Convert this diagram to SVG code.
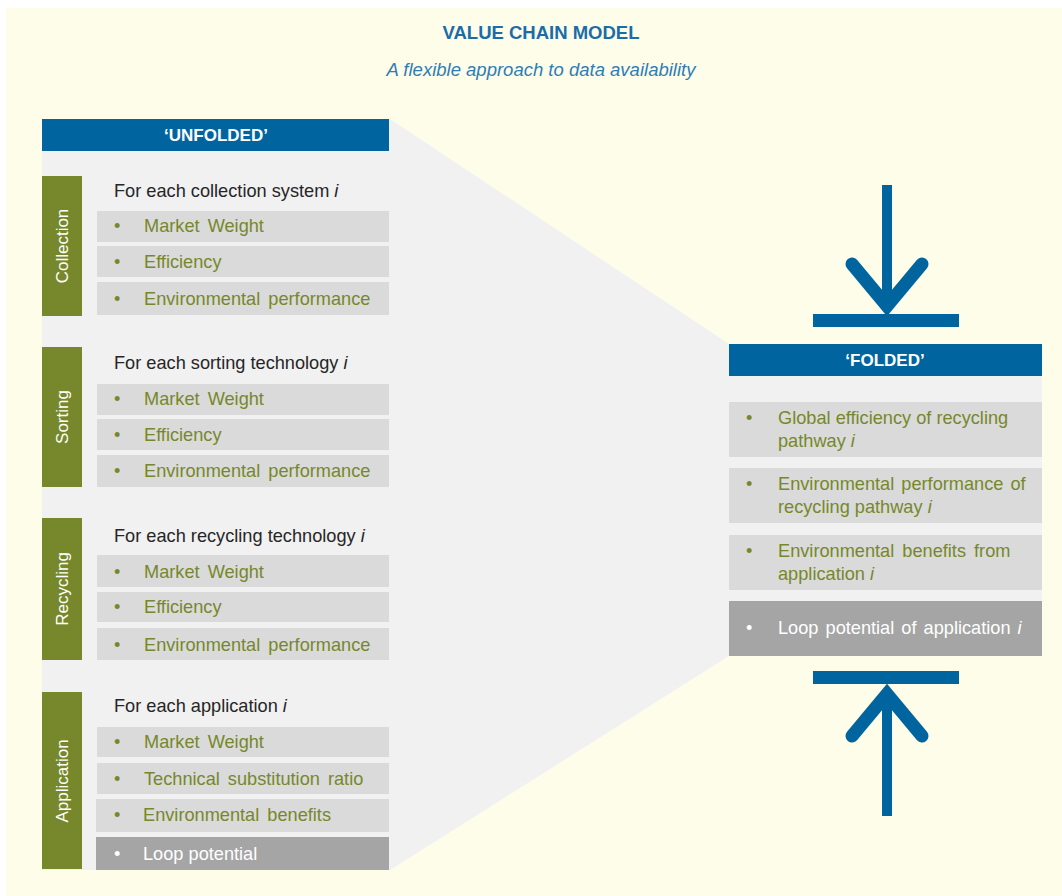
<svg xmlns="http://www.w3.org/2000/svg" width="1062" height="896" viewBox="0 0 1062 896">
<defs>
<style>
.bg{fill:#FEFDE9}
.panel{fill:#F1F1F2}
.hdr{fill:#00659F}
.side{fill:#76882B}
.row{fill:#DADADA}
.loop{fill:#A5A5A5}
.blue{fill:#00659F}
.t{font-family:"Liberation Sans",Arial,sans-serif;font-size:18.2px}
.title{font-family:"Liberation Sans",Arial,sans-serif;font-size:18.5px;font-weight:bold;fill:#1B6DA8}
.sub{font-family:"Liberation Sans",Arial,sans-serif;font-size:18.5px;font-style:italic;fill:#2E7DB5}
.ht{font-family:"Liberation Sans",Arial,sans-serif;font-size:17px;font-weight:bold;fill:#FFFFFF}
.st{font-family:"Liberation Sans",Arial,sans-serif;font-size:17px;fill:#FFFFFF}
.sec{fill:#262626}
.g{fill:#76882B}
.w{fill:#FFFFFF}
.arr{stroke:#00659F;fill:none;stroke-width:13;stroke-linecap:round;stroke-linejoin:miter}
.shaft{stroke:#00659F;stroke-width:10;fill:none}
</style>
</defs>
<rect class="bg" x="6" y="8" width="1056" height="888"/>
<text class="title" x="541" y="39" text-anchor="middle">VALUE CHAIN MODEL</text>
<text class="sub" x="541" y="76" text-anchor="middle">A flexible approach to data availability</text>

<g id="connectors">
<polygon class="panel" points="42,119 390,119 729,344 1042,344 1042,656 729,656 390,870 42,870"/>
<g id="arrow-down">
<line class="shaft" x1="887" y1="185" x2="887" y2="310"/>
<polyline class="arr" points="852,264 887,306 922,264"/>
<rect class="blue" x="813" y="314" width="146" height="13"/>
</g>
<g id="arrow-up">
<rect class="blue" x="813" y="671" width="146" height="13"/>
<line class="shaft" x1="887" y1="692" x2="887" y2="816"/>
<polyline class="arr" points="852,736 887,694 922,736"/>
</g>
</g>

<g id="unfolded-header">
<rect class="hdr" x="42" y="119" width="347" height="32"/>
<text class="ht" x="216" y="141" text-anchor="middle">‘UNFOLDED’</text>
</g>

<g id="collection">
<rect class="side" x="42" y="176" width="40" height="140"/>
<text class="st" transform="translate(68,246) rotate(-90)" text-anchor="middle">Collection</text>
<text class="t sec" x="114" y="197">For each collection system <tspan font-style="italic">i</tspan></text>
<rect class="row" x="97" y="211" width="292" height="31"/>
<text class="t g" x="114" y="232">•</text><text class="t g" x="144" y="232" word-spacing="3">Market Weight</text>
<rect class="row" x="97" y="246" width="292" height="31"/>
<text class="t g" x="114" y="268">•</text><text class="t g" x="144" y="268">Efficiency</text>
<rect class="row" x="97" y="282" width="292" height="33"/>
<text class="t g" x="114" y="305">•</text><text class="t g" x="144" y="305" word-spacing="3">Environmental performance</text>
</g>

<g id="sorting">
<rect class="side" x="42" y="347" width="40" height="140"/>
<text class="st" transform="translate(68,417) rotate(-90)" text-anchor="middle">Sorting</text>
<text class="t sec" x="114" y="369">For each sorting technology <tspan font-style="italic">i</tspan></text>
<rect class="row" x="97" y="384" width="292" height="31"/>
<text class="t g" x="114" y="405">•</text><text class="t g" x="144" y="405" word-spacing="3">Market Weight</text>
<rect class="row" x="97" y="419" width="292" height="31"/>
<text class="t g" x="114" y="441">•</text><text class="t g" x="144" y="441">Efficiency</text>
<rect class="row" x="97" y="455" width="292" height="32"/>
<text class="t g" x="114" y="477">•</text><text class="t g" x="144" y="477" word-spacing="3">Environmental performance</text>
</g>

<g id="recycling">
<rect class="side" x="42" y="518" width="40" height="142"/>
<text class="st" transform="translate(68,589) rotate(-90)" text-anchor="middle">Recycling</text>
<text class="t sec" x="114" y="542">For each recycling technology <tspan font-style="italic">i</tspan></text>
<rect class="row" x="97" y="555" width="292" height="32"/>
<text class="t g" x="114" y="578">•</text><text class="t g" x="144" y="578" word-spacing="3">Market Weight</text>
<rect class="row" x="97" y="592" width="292" height="30"/>
<text class="t g" x="114" y="613">•</text><text class="t g" x="144" y="613">Efficiency</text>
<rect class="row" x="97" y="628" width="292" height="32"/>
<text class="t g" x="114" y="651">•</text><text class="t g" x="144" y="651" word-spacing="3">Environmental performance</text>
</g>

<g id="application">
<rect class="side" x="42" y="692" width="40" height="177"/>
<text class="st" transform="translate(68,781) rotate(-90)" text-anchor="middle">Application</text>
<text class="t sec" x="114" y="712">For each application <tspan font-style="italic">i</tspan></text>
<rect class="row" x="97" y="727" width="292" height="30"/>
<text class="t g" x="114" y="748">•</text><text class="t g" x="144" y="748" word-spacing="3">Market Weight</text>
<rect class="row" x="97" y="763" width="292" height="31"/>
<text class="t g" x="114" y="785">•</text><text class="t g" x="144" y="785" word-spacing="3">Technical substitution ratio</text>
<rect class="row" x="96" y="799" width="293" height="33"/>
<text class="t g" x="114" y="821">•</text><text class="t g" x="143" y="821" word-spacing="3">Environmental benefits</text>
<rect class="loop" x="96" y="837" width="293" height="33"/>
<text class="t w" x="114" y="860">•</text><text class="t w" x="143" y="860">Loop potential</text>
</g>

<g id="folded-header">
<rect class="hdr" x="729" y="344" width="313" height="32"/>
<text class="ht" x="885" y="366" text-anchor="middle">‘FOLDED’</text>
</g>

<g id="folded-global">
<rect class="row" x="729" y="402" width="313" height="55"/>
<text class="t g" x="746" y="424">•</text>
<text class="t g" x="778" y="424">Global efficiency of recycling</text>
<text class="t g" x="778" y="447">pathway <tspan font-style="italic">i</tspan></text>
</g>
<g id="folded-envperf">
<rect class="row" x="729" y="468" width="313" height="55"/>
<text class="t g" x="746" y="490">•</text>
<text class="t g" x="778" y="490" word-spacing="2">Environmental performance of</text>
<text class="t g" x="778" y="513">recycling pathway <tspan font-style="italic">i</tspan></text>
</g>
<g id="folded-envben">
<rect class="row" x="729" y="535" width="313" height="55"/>
<text class="t g" x="746" y="557">•</text>
<text class="t g" x="778" y="557" word-spacing="3">Environmental benefits from</text>
<text class="t g" x="778" y="580">application <tspan font-style="italic">i</tspan></text>
</g>
<g id="folded-loop">
<rect class="loop" x="729" y="601" width="313" height="55"/>
<text class="t w" x="746" y="634">•</text>
<text class="t w" x="778" y="634" word-spacing="2">Loop potential of application <tspan font-style="italic">i</tspan></text>
</g>
</svg>
